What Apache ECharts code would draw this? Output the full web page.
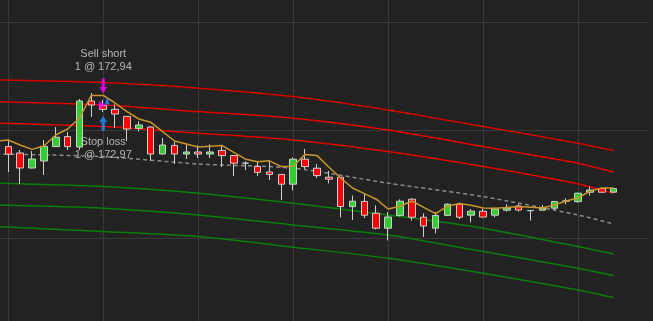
<!DOCTYPE html>
<html>
<head>
<meta charset="utf-8">
<style>
html, body { margin: 0; padding: 0; background: #222222; }
#main { width: 653px; height: 321px; }
</style>
<script src="https://cdn.jsdelivr.net/npm/echarts@6/dist/echarts.min.js"></script>
</head>
<body>
<div id="main"></div>
<script>
// bars on the x axis (labels are hidden, the last ones are empty space)
var bars = Array.from({ length: 56 }, function (v, i) { return 'B' + i; });

// [open, close, low, high]
var candles = [
  [172.59, 172.75, 172.59, 172.75],
  [172.717, 172.679, 172.59, 172.75],
  [172.685, 172.61, 172.53, 172.70],
  [172.61, 172.655, 172.608, 172.695],
  [172.645, 172.718, 172.575, 172.75],
  [172.717, 172.764, 172.715, 172.815],
  [172.767, 172.717, 172.70, 172.79],
  [172.715, 172.945, 172.70, 172.955],
  [172.945, 172.925, 172.865, 172.985],
  [172.922, 172.903, 172.89, 172.95],
  [172.903, 172.88, 172.81, 172.928],
  [172.868, 172.805, 172.745, 172.87],
  [172.808, 172.825, 172.793, 172.843],
  [172.815, 172.68, 172.645, 172.818],
  [172.68, 172.725, 172.678, 172.76],
  [172.723, 172.68, 172.63, 172.74],
  [172.68, 172.69, 172.655, 172.725],
  [172.69, 172.68, 172.66, 172.723],
  [172.68, 172.69, 172.66, 172.728],
  [172.698, 172.672, 172.615, 172.723],
  [172.672, 172.634, 172.57, 172.675],
  [172.634, 172.634, 172.60, 172.643],
  [172.618, 172.588, 172.57, 172.645],
  [172.59, 172.578, 172.55, 172.648],
  [172.578, 172.529, 172.45, 172.58],
  [172.529, 172.654, 172.498, 172.663],
  [172.654, 172.617, 172.605, 172.705],
  [172.609, 172.572, 172.56, 172.63],
  [172.564, 172.554, 172.533, 172.595],
  [172.564, 172.417, 172.363, 172.565],
  [172.417, 172.444, 172.35, 172.472],
  [172.443, 172.374, 172.36, 172.483],
  [172.384, 172.309, 172.303, 172.423],
  [172.309, 172.365, 172.248, 172.39],
  [172.373, 172.444, 172.368, 172.453],
  [172.454, 172.364, 172.347, 172.459],
  [172.364, 172.32, 172.265, 172.383],
  [172.309, 172.373, 172.283, 172.39],
  [172.373, 172.429, 172.37, 172.433],
  [172.429, 172.364, 172.354, 172.437],
  [172.374, 172.394, 172.338, 172.405],
  [172.394, 172.365, 172.363, 172.405],
  [172.374, 172.405, 172.363, 172.412],
  [172.399, 172.409, 172.392, 172.429],
  [172.42, 172.40, 172.392, 172.429],
  [172.397, 172.397, 172.347, 172.40],
  [172.399, 172.409, 172.398, 172.425],
  [172.409, 172.442, 172.40, 172.443],
  [172.445, 172.445, 172.429, 172.459],
  [172.442, 172.484, 172.437, 172.487],
  [172.489, 172.50, 172.472, 172.517],
  [172.507, 172.489, 172.488, 172.509],
  [172.489, 172.507, 172.488, 172.51]
];

// moving average
var ma = [
  172.745, 172.75, 172.725, 172.703, 172.72, 172.775, 172.805, 172.86, 172.973, 172.973,
  172.935, 172.892, 172.855, 172.839, 172.792, 172.745, 172.73, 172.715, 172.719, 172.723,
  172.688, 172.654, 172.641, 172.646, 172.617, 172.619, 172.678, 172.673, 172.615, 172.56,
  172.51, 172.482, 172.454, 172.405, 172.419, 172.445, 172.413, 172.382, 172.419, 172.432,
  172.424, 172.41, 172.409, 172.412, 172.417, 172.414, 172.41, 172.425, 172.445, 172.46,
  172.494, 172.51, 172.51
];

// channel lines, [bar, price]
var upper3 = [[0, 173.05], [9, 173.037], [17, 173.009], [25, 172.967], [33, 172.90], [41, 172.817], [49, 172.734], [52, 172.697]];
var upper2 = [[0, 172.942], [9, 172.925], [17, 172.892], [25, 172.859], [33, 172.80], [41, 172.717], [49, 172.634], [52, 172.589]];
var upper1 = [[0, 172.834], [9, 172.817], [17, 172.784], [25, 172.75], [33, 172.692], [41, 172.617], [49, 172.53], [52, 172.484]];
var middle = [[0, 172.68], [9, 172.667], [17, 172.63], [25, 172.609], [33, 172.534], [41, 172.467], [49, 172.375], [52, 172.33]];
var lower1 = [[0, 172.534], [9, 172.517], [17, 172.484], [25, 172.434], [33, 172.375], [41, 172.309], [49, 172.217], [52, 172.18]];
var lower2 = [[0, 172.425], [9, 172.409], [17, 172.375], [25, 172.325], [33, 172.275], [41, 172.192], [49, 172.109], [52, 172.072]];
var lower3 = [[0, 172.317], [9, 172.292], [17, 172.267], [25, 172.214], [33, 172.159], [41, 172.084], [49, 172.00], [52, 171.962]];

// trade markers
var tradeBars = [9, 9, 9, 9];
var tradePrices = [173.02, 172.834, 172.925, 172.947];
var tradeTexts = ['Sell short\n1 @ 172,94', 'Stop loss\n1 @ 172,97', '', ''];

var chart = echarts.init(document.getElementById('main'));

function band(data, color, dashed) {
  return {
    type: 'line',
    data: data,
    symbol: 'none',
    smooth: 0.25,
    silent: true,
    z: 1,
    lineStyle: { color: color, width: 1.5, type: dashed ? [4, 3] : 'solid' }
  };
}

var arrowDown = 'path://M3,0H7V9H10L5,16L0,9H3Z';
var arrowUp = 'path://M5,0L10,7H7V16H3V7H0Z';
var tradeStyle = [
  { symbol: arrowDown, size: [8, 15], color: '#ff00ff', pos: 'top', offset: [0, 0] },
  { symbol: arrowUp, size: [8, 15], color: '#1e90ff', pos: 'bottom', offset: [0, 0] },
  { symbol: 'path://M0,0L10,5L0,10Z', size: [7, 8], color: '#ff00ff', pos: 'top', offset: [-1, 0] },
  { symbol: 'path://M0,10L5,0L10,10Z', size: [5, 8], color: '#1e90ff', pos: 'top', offset: [4, 0] }
];
var trades = tradeBars.map(function (b, i) {
  var s = tradeStyle[i];
  return {
    value: [b, tradePrices[i]],
    symbol: s.symbol,
    symbolSize: s.size,
    symbolOffset: s.offset,
    itemStyle: { color: s.color },
    label: {
      show: tradeTexts[i] !== '',
      formatter: tradeTexts[i],
      position: s.pos,
      distance: 5,
      color: '#dadada',
      fontSize: 11,
      lineHeight: 13,
      fontFamily: 'Liberation Sans, Arial, sans-serif'
    }
  };
});

chart.setOption({
  backgroundColor: '#222222',
  animation: false,
  grid: { left: -3.6, right: 3.75, top: -86, bottom: -25, outerBoundsMode: 'none' },
  xAxis: {
    type: 'category',
    data: bars,
    boundaryGap: false,
    axisLine: { show: false },
    axisTick: { show: false },
    axisLabel: { show: false },
    splitLine: {
      show: true,
      interval: function (index) { return index % 8 === 1; },
      lineStyle: { color: '#393939', width: 1 }
    }
  },
  yAxis: {
    type: 'value',
    min: 171.72,
    max: 173.88,
    interval: 0.54,
    axisLine: { show: false },
    axisTick: { show: false },
    axisLabel: { show: false },
    splitLine: { show: true, lineStyle: { color: '#393939', width: 1 } }
  },
  series: [
    band(upper3, '#d40000'),
    band(upper2, '#e00000'),
    band(upper1, '#e00000'),
    band(middle, '#8a8a8a', true),
    band(lower1, '#0a7d0a'),
    band(lower2, '#0a7d0a'),
    band(lower3, '#0a7d0a'),
    {
      type: 'candlestick',
      data: candles,
      barWidth: 7,
      z: 3,
      itemStyle: {
        color: '#33cc33',
        color0: '#ff0000',
        borderColor: '#cfcfcf',
        borderColor0: '#cfcfcf',
        borderColorDoji: '#cfcfcf',
        borderWidth: 1
      }
    },
    {
      type: 'line',
      data: ma,
      symbol: 'none',
      z: 4,
      lineStyle: { color: '#c8962a', width: 1.5 }
    },
    {
      type: 'scatter',
      data: trades,
      z: 6
    }
  ]
});
</script>
</body>
</html>
